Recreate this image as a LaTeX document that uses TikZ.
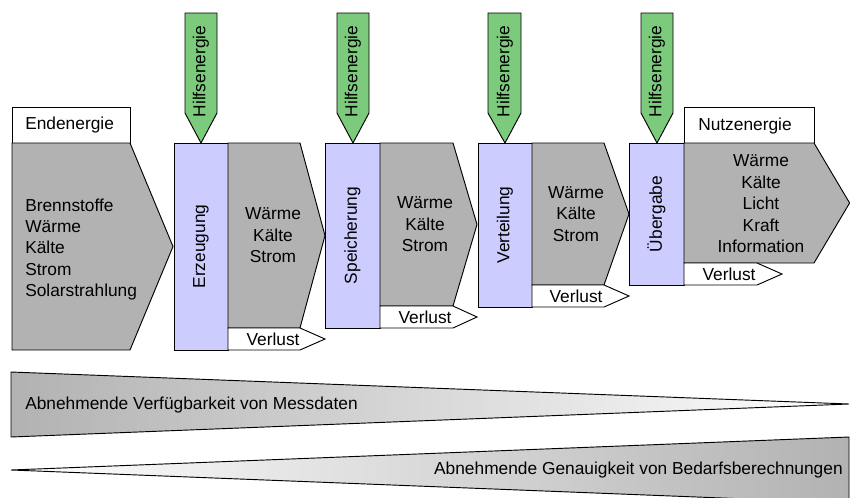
\documentclass[tikz,border=0pt]{standalone}
\usepackage{fontspec}
\setmainfont{Liberation Sans}
\definecolor{blockgray}{RGB}{178,178,178}
\definecolor{stagepurple}{RGB}{204,204,255}
\definecolor{auxgreen}{RGB}{124,202,124}
\tikzset{
  shp/.style={draw=black, line width=0.7pt, line join=miter},
  txt/.style={inner sep=0pt, font=\fontsize{13pt}{16.1pt}\selectfont},
  multi/.style={txt, align=center},
  vert/.style={txt, rotate=90},
}
% pentagon arrow: x1,y1,x2,y2,tipx,fill
\newcommand\pentarrow[6]{\path[shp, fill=#6] (#1,#2) -- (#3,#2) -- (#5,{(#2+#4)/2}) -- (#3,#4) -- (#1,#4) -- cycle;}
% green down arrow: x1,x2,mid
\newcommand\auxarrow[3]{\path[shp, fill=auxgreen] (#1,13) -- (#2,13) -- (#2,113) -- (#3,143) -- (#1,113) -- cycle;}
\begin{document}
\begin{tikzpicture}[x=0.75pt, y=-0.75pt]
\useasboundingbox (0,0) rectangle (850,497);

% Endenergie
\path[shp, fill=white] (12,107) rectangle (130,143);
\node[txt, anchor=west] (ende) at (25,125) {Endenergie};
\pentarrow{12}{143}{130}{350}{173}{blockgray}
\node[txt, anchor=west, align=left] (endin) at (25,249.5) {Brennstoffe\\Wärme\\Kälte\\Strom\\Solarstrahlung};

% Stage 1: Erzeugung
\auxarrow{185}{217}{201}
\node[vert] (h1) at (201,71.5) {Hilfsenergie};
\path[shp, fill=stagepurple] (174,143) rectangle (228,350);
\node[vert] (s1) at (201,246.5) {Erzeugung};
\pentarrow{228}{143}{300}{328}{325}{blockgray}
\node[multi] (g1) at (273,235.5) {Wärme\\Kälte\\Strom};
\pentarrow{228}{328}{300}{350}{325}{white}
\node[txt] (v1) at (273,339) {Verlust};

% Stage 2: Speicherung
\auxarrow{337}{369}{353}
\node[vert] (h2) at (353,71.5) {Hilfsenergie};
\path[shp, fill=stagepurple] (325,143) rectangle (380,328);
\node[vert] (s2) at (352.5,235.5) {Speicherung};
\pentarrow{380}{143}{453}{306}{477}{blockgray}
\node[multi] (g2) at (425,224.5) {Wärme\\Kälte\\Strom};
\pentarrow{380}{306}{453}{328}{477}{white}
\node[txt] (v2) at (425,317) {Verlust};

% Stage 3: Verteilung
\auxarrow{488}{521}{505}
\node[vert] (h3) at (505,71.5) {Hilfsenergie};
\path[shp, fill=stagepurple] (478,143) rectangle (532,307);
\node[vert] (s3) at (505,225) {Verteilung};
\pentarrow{532}{143}{604}{285}{629}{blockgray}
\node[multi] (g3) at (576,214) {Wärme\\Kälte\\Strom};
\pentarrow{532}{285}{604}{307}{629}{white}
\node[txt] (v3) at (576,296) {Verlust};

% Stage 4: Uebergabe
\auxarrow{641}{673}{657}
\node[vert] (h4) at (657,71.5) {Hilfsenergie};
\path[shp, fill=stagepurple] (629,143) rectangle (684,285);
\node[vert] (s4) at (656.5,214) {Übergabe};
\path[shp, fill=white] (684,107) rectangle (814,143);
\node[txt, anchor=west] (nutz) at (698,126) {Nutzenergie};
\pentarrow{684}{143}{814}{263}{849.6}{blockgray}
\node[multi] (g4) at (761,204) {Wärme\\Kälte\\Licht\\Kraft\\Information};
\pentarrow{684}{263}{757}{285}{782}{white}
\node[txt] (v4) at (729,274) {Verlust};

% Wedges
\path[shp, left color=blockgray, right color=white] (11,372) -- (849,404) -- (11,437) -- cycle;
\node[txt, anchor=west] (w1) at (25,405) {Abnehmende Verfügbarkeit von Messdaten};
\path[shp, left color=white, right color=blockgray] (11,470) -- (849,437) -- (849,503) -- cycle;
\node[txt, anchor=east] (w2) at (843,470) {Abnehmende Genauigkeit von Bedarfsberechnungen};
\end{tikzpicture}
\end{document}
